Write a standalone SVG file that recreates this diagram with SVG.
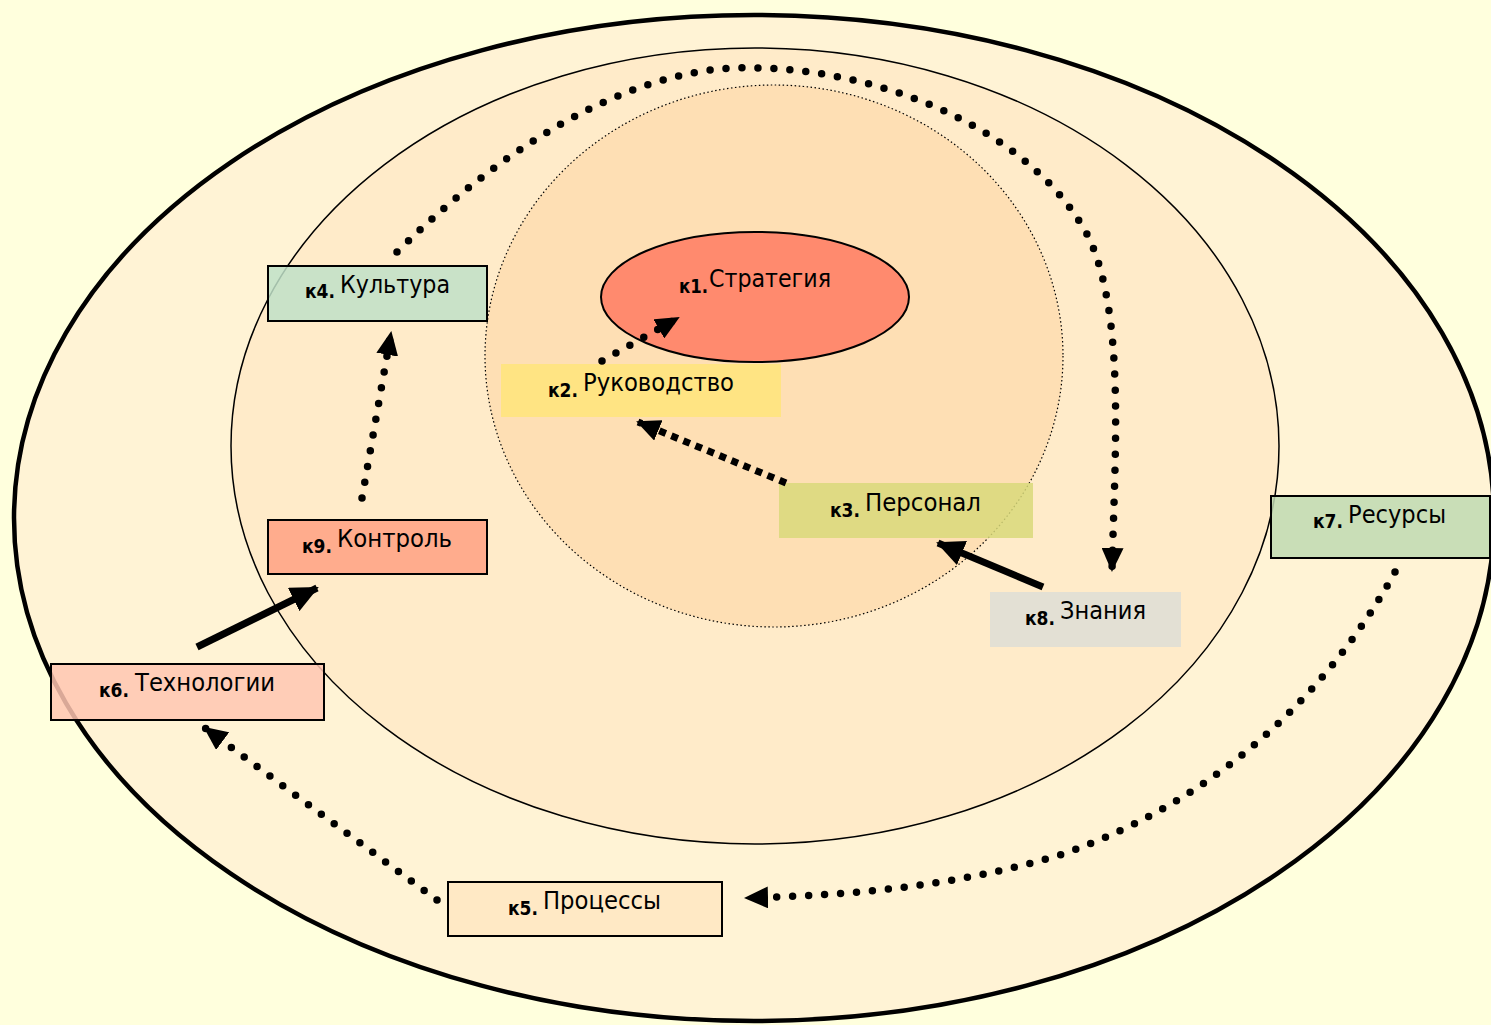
<svg xmlns="http://www.w3.org/2000/svg" width="1491" height="1025" viewBox="0 0 1491 1025">
  <style>
    .lbl { font-family: "DejaVu Sans", Verdana, sans-serif; font-size: 19px; font-weight: bold; fill: #000; }
    .txt { font-family: "DejaVu Sans", Verdana, sans-serif; font-size: 24px; fill: #000; }
    .box { stroke: #000; stroke-width: 2; fill-opacity: 0.85; }
    .flat { stroke: none; fill-opacity: 0.85; }
    .dots { fill: none; stroke: #000; stroke-width: 7.5; stroke-linecap: round; stroke-dasharray: 0 16; }
    .dash { fill: none; stroke: #000; stroke-width: 7; stroke-dasharray: 7 6; }
    .solid { fill: none; stroke: #000; stroke-width: 7; }
  </style>
  <defs>
    <marker id="head" viewBox="0 0 24 22" refX="22" refY="11" markerWidth="24" markerHeight="22" markerUnits="userSpaceOnUse" orient="auto">
      <path d="M0,0 L24,11 L0,22 Z" fill="#000"/>
    </marker>
    <marker id="headBig" viewBox="0 0 28 26" refX="26" refY="13" markerWidth="28" markerHeight="26" markerUnits="userSpaceOnUse" orient="auto">
      <path d="M0,0 L28,13 L0,26 Z" fill="#000"/>
    </marker>
  </defs>

  <!-- page background -->
  <rect x="0" y="0" width="1491" height="1025" fill="#FFFFDD"/>

  <!-- nested zones -->
  <g id="zones">
    <ellipse cx="754" cy="518" rx="740" ry="503" fill="#FFF3D5" stroke="#000" stroke-width="4.5"/>
    <ellipse cx="755" cy="446" rx="524" ry="398" fill="#FFEBC9" stroke="#000" stroke-width="1.5"/>
    <ellipse cx="774" cy="356" rx="289" ry="271" fill="#FEDFB4" stroke="#000" stroke-width="1.2" stroke-dasharray="1.5 2.5"/>
  </g>

  <!-- k1 core -->
  <g id="k1">
    <ellipse cx="755" cy="297" rx="154" ry="65" fill="#FF8A6E" stroke="#000" stroke-width="2"/>
    <text class="lbl" x="679" y="293" textLength="29" lengthAdjust="spacingAndGlyphs">к1.</text>
    <text class="txt" x="709" y="287" textLength="122" lengthAdjust="spacingAndGlyphs">Стратегия</text>
  </g>

  <g id="k2">
    <rect class="flat" x="501" y="364" width="280" height="53" fill="#FFE57A"/>
    <text class="lbl" x="548" y="397" textLength="30" lengthAdjust="spacingAndGlyphs">к2.</text>
    <text class="txt" x="583" y="391" textLength="151" lengthAdjust="spacingAndGlyphs">Руководство</text>
  </g>

  <g id="k3">
    <rect class="flat" x="779" y="483" width="254" height="55" fill="#D9D97A"/>
    <text class="lbl" x="830" y="517" textLength="30" lengthAdjust="spacingAndGlyphs">к3.</text>
    <text class="txt" x="865" y="511" textLength="116" lengthAdjust="spacingAndGlyphs">Персонал</text>
  </g>

  <g id="k4">
    <rect class="box" x="268" y="266" width="219" height="55" fill="#BFE0C8"/>
    <text class="lbl" x="305" y="298" textLength="30" lengthAdjust="spacingAndGlyphs">к4.</text>
    <text class="txt" x="340" y="293" textLength="110" lengthAdjust="spacingAndGlyphs">Культура</text>
  </g>

  <g id="k5">
    <rect class="box" x="448" y="882" width="274" height="54" fill="#FFE6C2"/>
    <text class="lbl" x="508" y="915" textLength="30" lengthAdjust="spacingAndGlyphs">к5.</text>
    <text class="txt" x="543" y="909" textLength="118" lengthAdjust="spacingAndGlyphs">Процессы</text>
  </g>

  <g id="k6">
    <rect class="box" x="51" y="664" width="273" height="56" fill="#FFC6B2"/>
    <text class="lbl" x="99" y="697" textLength="30" lengthAdjust="spacingAndGlyphs">к6.</text>
    <text class="txt" x="135" y="691" textLength="140" lengthAdjust="spacingAndGlyphs">Технологии</text>
  </g>

  <g id="k7">
    <rect class="box" x="1271" y="496" width="219" height="62" fill="#BFD9B2"/>
    <text class="lbl" x="1313" y="528" textLength="30" lengthAdjust="spacingAndGlyphs">к7.</text>
    <text class="txt" x="1348" y="523" textLength="98" lengthAdjust="spacingAndGlyphs">Ресурсы</text>
  </g>

  <g id="k8">
    <rect class="flat" x="990" y="592" width="191" height="55" fill="#DEDED6"/>
    <text class="lbl" x="1025" y="625" textLength="30" lengthAdjust="spacingAndGlyphs">к8.</text>
    <text class="txt" x="1060" y="619" textLength="86" lengthAdjust="spacingAndGlyphs">Знания</text>
  </g>

  <g id="k9">
    <rect class="box" x="268" y="520" width="219" height="54" fill="#FFA182"/>
    <text class="lbl" x="302" y="553" textLength="30" lengthAdjust="spacingAndGlyphs">к9.</text>
    <text class="txt" x="337" y="547" textLength="115" lengthAdjust="spacingAndGlyphs">Контроль</text>
  </g>

  <!-- connectors -->
  <g id="connectors">
    <path class="dots" d="M602,361 L678,318" marker-end="url(#head)"/>
    <path class="dash" d="M786,483 L638,422" marker-end="url(#head)"/>
    <path class="solid" d="M1043,587 L938,543" marker-end="url(#headBig)"/>
    <path class="dots" d="M362,498 L391,333" marker-end="url(#head)"/>
    <path class="solid" d="M197,647 L317,588" marker-end="url(#headBig)"/>
    <path class="dots" d="M397,252 C520,130 650,62 760,68 C900,72 1040,140 1090,240 C1125,320 1115,450 1112,570" marker-end="url(#head)"/>
    <path class="dots" d="M1395,572 C1330,690 1220,800 1060,855 C960,885 860,895 746,898" marker-end="url(#head)"/>
    <path class="dots" d="M437,900 L205,728" marker-end="url(#head)"/>
  </g>
</svg>
